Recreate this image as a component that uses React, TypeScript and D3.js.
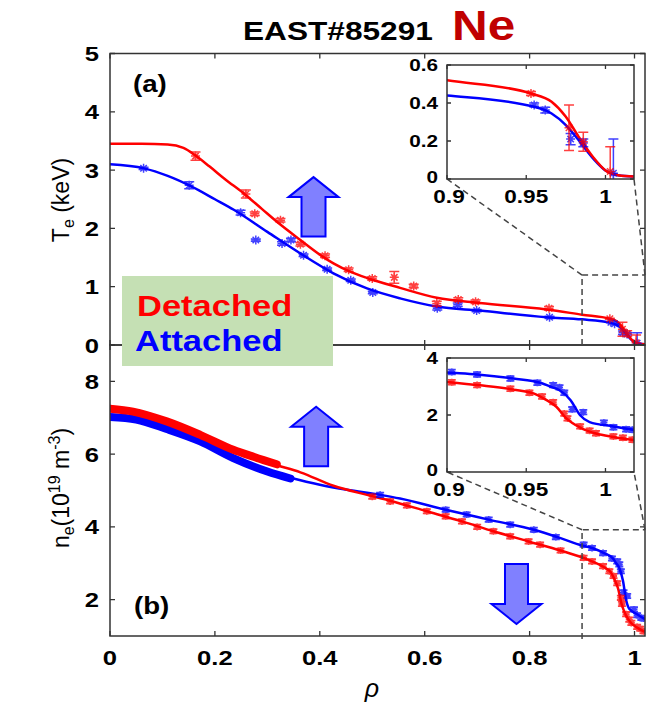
import React from "react";
import * as d3 from "d3";

const W = 657, H = 704;
const FONT = "'Liberation Sans', Arial, Helvetica, sans-serif";
const RED = "#ff0000", BLUE = "#0000ff";

// ---- tick values ----
const xTicks = [0, 0.2, 0.4, 0.6, 0.8, 1];
const teTicks = [0, 1, 2, 3, 4, 5];
const neTicks = [2, 4, 6, 8];
const insetXTicks = [0.9, 0.95, 1];
const insetTeTicks = [0, 0.2, 0.4, 0.6];
const insetNeTicks = [0, 2, 4];

// ---- (a) Te fits [rho, keV] ----
const teDetFit = [[0,3.45],[0.06,3.45],[0.11,3.44],[0.14,3.38],[0.163,3.25],[0.19,3.06],[0.22,2.84],[0.255,2.6],[0.29,2.33],[0.32,2.1],[0.363,1.8],[0.4,1.55],[0.426,1.4],[0.46,1.25],[0.49,1.15],[0.553,0.98],[0.623,0.81],[0.705,0.72],[0.832,0.61],[0.9,0.52],[0.953,0.45],[0.966,0.407],[0.975,0.328],[0.983,0.223],[0.992,0.117],[1.0,0.045],[1.008,0.02],[1.02,0.012]];
const teAttFit = [[0,3.1],[0.065,3.03],[0.11,2.9],[0.155,2.72],[0.2,2.5],[0.236,2.32],[0.3,1.94],[0.363,1.57],[0.426,1.23],[0.49,0.97],[0.553,0.8],[0.623,0.66],[0.705,0.59],[0.832,0.475],[0.9,0.44],[0.955,0.38],[0.966,0.345],[0.975,0.284],[0.983,0.205],[0.992,0.11],[1.0,0.045],[1.008,0.02],[1.02,0.012]];
// ---- (a) Te measurements [rho, keV, err] ----
const teDetPts = [[0.163,3.24,0.07],[0.259,2.59,0.07],[0.276,2.25,0.03],[0.325,2.14,0.03],[0.363,1.73,0.03],[0.41,1.53,0.03],[0.455,1.29,0.03],[0.5,1.14,0.03],[0.542,1.16,0.1],[0.579,1.01,0.03],[0.623,0.71,0.04],[0.664,0.78,0.03],[0.697,0.74,0.03],[0.837,0.63,0.03],[0.953,0.45,0.01],[0.977,0.27,0.12],[0.986,0.196,0.05],[1.003,0.04,0.13]];
const teAttPts = [[0.064,3.03,0.02],[0.151,2.74,0.06],[0.249,2.27,0.04],[0.278,1.8,0.02],[0.328,1.74,0.03],[0.345,1.8,0.03],[0.369,1.54,0.02],[0.414,1.3,0.02],[0.459,1.11,0.02],[0.501,0.9,0.02],[0.624,0.63,0.03],[0.663,0.69,0.03],[0.699,0.59,0.02],[0.838,0.475,0.02],[0.955,0.39,0.01],[0.962,0.363,0.015],[0.978,0.21,0.03],[0.986,0.19,0.02],[1.005,0.03,0.18]];

// ---- (b) ne [rho, 1e19 m^-3] ----
const neDetCore = [[0,7.25],[0.044,7.17],[0.108,6.9],[0.172,6.53],[0.235,6.12],[0.275,5.92],[0.318,5.72]];
const neAttCore = [[0,7.02],[0.05,6.95],[0.108,6.69],[0.172,6.35],[0.235,5.89],[0.3,5.52],[0.344,5.33]];
const neDetFit = [[0,7.25],[0.044,7.17],[0.108,6.9],[0.172,6.53],[0.235,6.12],[0.312,5.72],[0.363,5.5],[0.426,5.13],[0.49,4.88],[0.534,4.72],[0.604,4.43],[0.671,4.15],[0.731,3.88],[0.798,3.6],[0.859,3.35],[0.9,3.16],[0.921,3.04],[0.942,2.89],[0.955,2.75],[0.962,2.55],[0.969,2.29],[0.975,1.9],[0.984,1.56],[0.994,1.35],[1.005,1.23],[1.02,1.11]];
const neAttFit = [[0,7.02],[0.05,6.95],[0.108,6.69],[0.172,6.35],[0.235,5.89],[0.3,5.52],[0.344,5.35],[0.4,5.16],[0.452,5.02],[0.515,4.88],[0.553,4.78],[0.64,4.47],[0.722,4.2],[0.808,3.92],[0.859,3.69],[0.9,3.49],[0.919,3.42],[0.942,3.28],[0.959,3.13],[0.965,3.0],[0.971,2.87],[0.978,2.52],[0.984,1.99],[0.99,1.75],[1.005,1.6],[1.02,1.46]];
const neDetPts = [[0.5,4.83],[0.534,4.7],[0.566,4.59],[0.604,4.43],[0.64,4.29],[0.671,4.15],[0.7,4.0],[0.731,3.88],[0.763,3.74],[0.798,3.6],[0.82,3.51],[0.859,3.35],[0.903,3.15],[0.919,3.05],[0.94,2.92],[0.952,2.78],[0.96,2.65],[0.967,2.45],[0.974,2.05],[0.976,1.88],[0.984,1.6],[0.99,1.45],[0.994,1.36],[1.005,1.25],[1.011,1.2],[1.017,1.13]];
const neAttPts = [[0.515,4.88],[0.64,4.47],[0.68,4.34],[0.722,4.2],[0.763,4.06],[0.808,3.92],[0.85,3.72],[0.903,3.51],[0.919,3.42],[0.94,3.28],[0.957,3.13],[0.967,3.05],[0.971,2.97],[0.974,2.78],[0.979,2.2],[0.986,2.1],[0.999,1.73],[1.005,1.57],[1.013,1.5],[1.017,1.48]];

// ---- annotation arrows: [rho, tail value, tip value] ----
const arrowA = [0.388, 1.86, 2.88];
const arrowBUp = [0.393, 5.67, 7.3];
const arrowBDown = [0.775, 2.98, 1.33];
// zoom boxes [rho0, rho1, v0, v1]
const zoomA = [0.9, 1.02, 0, 1.2];
const zoomB = [0.9, 1.02, 1, 3.92];

// ---- scales ----
const x = d3.scaleLinear().domain([0, 1.02]).range([110, 645]);
const yA = d3.scaleLinear().domain([0, 5]).range([345, 53.5]);
const yB = d3.scaleLinear().domain([1, 9]).range([636, 345]);
const ix = d3.scaleLinear().domain([0.9, 1.018]).range([447, 634]);
const iyA = d3.scaleLinear().domain([0, 0.6]).range([179, 65]);
const iyB = d3.scaleLinear().domain([0, 4]).range([472, 358]);

const SX = 1.22;

function T({ x, y, size, anchor = "start", weight = "bold", fill = "#000", sx = SX, italic = false, children }: any) {
  return (
    <g transform={`translate(${x},${y}) scale(${sx},1)`}>
      <text textAnchor={anchor} fontSize={size} fontWeight={weight} fill={fill}
        fontFamily={FONT} fontStyle={italic ? "italic" : "normal"}>{children}</text>
    </g>
  );
}

function star(cx: number, cy: number, r: number) {
  const d = r * 0.72;
  return `M${cx - r},${cy}H${cx + r}M${cx},${cy - r}V${cy + r}M${cx - d},${cy - d}L${cx + d},${cy + d}M${cx - d},${cy + d}L${cx + d},${cy - d}`;
}

function Points({ pts, sx, sy, color, r, cap, errDefault = 0, sw = 1.5 }: any) {
  return (
    <g stroke={color} strokeWidth={sw} opacity={0.75} fill="none">
      {pts.map((p: number[], i: number) => {
        const cx = sx(p[0]), cy = sy(p[1]);
        const e = p.length > 2 ? p[2] : errDefault;
        const y1 = sy(p[1] + e), y2 = sy(p[1] - e);
        return (
          <g key={i}>
            <path d={star(cx, cy, r)} />
            {e > 0 && <path d={`M${cx},${y1}V${y2}M${cx - cap},${y1}H${cx + cap}M${cx - cap},${y2}H${cx + cap}`} />}
          </g>
        );
      })}
    </g>
  );
}

function Arrow({ a, sy, hw = 12, hh = 25, hl = 20 }: any) {
  const cx = x(a[0]);
  const yt = sy(a[1]);
  const yp = sy(a[2]);
  const dir = yp < yt ? 1 : -1; // up => 1
  const yb = yp + dir * hl;
  const pts = [[cx - hw, yt], [cx - hw, yb], [cx - hh, yb], [cx, yp], [cx + hh, yb], [cx + hw, yb], [cx + hw, yt]];
  return <polygon points={pts.map(p => p.join(",")).join(" ")} fill="#8080ff" stroke={BLUE} strokeWidth={2} />;
}

function Frame({ x0, x1, y0, y1, xt, yt, sx, sy, len = 5 }: any) {
  const parts: string[] = [];
  xt.forEach((v: number) => {
    const px = sx(v);
    parts.push(`M${px},${y1}v${-len}`, `M${px},${y0}v${len}`);
  });
  yt.forEach((v: number) => {
    const py = sy(v);
    parts.push(`M${x0},${py}h${len}`, `M${x1},${py}h${-len}`);
  });
  return (
    <g>
      <rect x={x0} y={y0} width={x1 - x0} height={y1 - y0} fill="none" stroke="#333" strokeWidth={1.5} />
      <path d={parts.join("")} stroke="#333" strokeWidth={1.3} fill="none" />
    </g>
  );
}

export default function App() {
  const lineA = (sx: any, sy: any) => d3.line<number[]>().x(d => sx(d[0])).y(d => sy(d[1])).curve(d3.curveMonotoneX);
  const la = lineA(x, yA), lb = lineA(x, yB), lia = lineA(ix, iyA), lib = lineA(ix, iyB);
  const dash = { stroke: "#444", strokeWidth: 1.5, strokeDasharray: "6,4", fill: "none" };

  return (
    <svg width={W} height={H} style={{ position: "absolute", left: 0, top: 0, background: "#fff" }}>
      <defs>
        <clipPath id="cA"><rect x={x(0)} y={yA(5)} width={x(1.02) - x(0)} height={yA(0) - yA(5)} /></clipPath>
        <clipPath id="cB"><rect x={x(0)} y={yB(9)} width={x(1.02) - x(0)} height={yB(1) - yB(9)} /></clipPath>
        <clipPath id="ciA"><rect x={ix(0.9)} y={iyA(0.6)} width={ix(1.018) - ix(0.9)} height={iyA(0) - iyA(0.6)} /></clipPath>
        <clipPath id="ciB"><rect x={ix(0.9)} y={iyB(4)} width={ix(1.018) - ix(0.9)} height={iyB(0) - iyB(4)} /></clipPath>
      </defs>

      {/* Title */}
      <T x={243} y={40} size={25.5} sx={1.24}>EAST#85291</T>
      <T x={452} y={40} size={43} fill="#c00000" sx={1.15}>Ne</T>

      {/* Panel (a) */}
      <g clipPath="url(#cA)">
        <path d={la(teAttFit) || ""} stroke={BLUE} strokeWidth={2.5} fill="none" />
        <path d={la(teDetFit) || ""} stroke={RED} strokeWidth={2.5} fill="none" />
        <Points pts={teAttPts} sx={x} sy={yA} color={BLUE} r={4.5} cap={5} />
        <Points pts={teDetPts} sx={x} sy={yA} color={RED} r={4.5} cap={5} />
      </g>
      {/* Panel (b) */}
      <g clipPath="url(#cB)">
        <path d={lb(neAttFit) || ""} stroke={BLUE} strokeWidth={2.5} fill="none" />
        <path d={lb(neDetFit) || ""} stroke={RED} strokeWidth={2.5} fill="none" />
        <path d={lb(neAttCore) || ""} stroke={BLUE} strokeWidth={8} strokeLinecap="round" fill="none" />
        <path d={lb(neDetCore) || ""} stroke={RED} strokeWidth={8} strokeLinecap="round" fill="none" />
        <Points pts={neAttPts} sx={x} sy={yB} color={BLUE} r={3.5} cap={4} errDefault={0.06} sw={1.8} />
        <Points pts={neDetPts} sx={x} sy={yB} color={RED} r={3.5} cap={4} errDefault={0.06} sw={1.8} />
      </g>

      <Frame x0={x(0)} x1={x(1.02)} y0={yA(5)} y1={yA(0)} xt={xTicks} yt={teTicks} sx={x} sy={yA} />
      <Frame x0={x(0)} x1={x(1.02)} y0={yB(9)} y1={yB(1)} xt={xTicks} yt={neTicks} sx={x} sy={yB} />

      {/* zoom boxes & connectors */}
      <path {...dash} d={`M${x(zoomA[0])},${yA(zoomA[2])}V${yA(zoomA[3])}H${x(zoomA[1])}`} />
      <path {...dash} d={`M${x(zoomA[0])},${yA(zoomA[3])}L${ix(0.9)},${iyA(0)}M${x(zoomA[1])},${yA(zoomA[3])}L${ix(1.018)},${iyA(0)}`} />
      <path {...dash} d={`M${x(zoomB[0])},${yB(zoomB[2]) + 3}V${yB(zoomB[3])}H${x(zoomB[1])}`} />
      <path {...dash} d={`M${x(zoomB[0])},${yB(zoomB[3])}L${ix(0.9)},${iyB(0)}M${x(zoomB[1])},${yB(zoomB[3])}L${ix(1.018)},${iyB(0)}`} />

      {/* Inset (a) */}
      <rect x={ix(0.9)} y={iyA(0.6)} width={ix(1.018) - ix(0.9)} height={iyA(0) - iyA(0.6)} fill="#fff" />
      <g clipPath="url(#ciA)">
        <path d={lia(teAttFit) || ""} stroke={BLUE} strokeWidth={2.5} fill="none" />
        <path d={lia(teDetFit) || ""} stroke={RED} strokeWidth={2.5} fill="none" />
        <Points pts={teAttPts} sx={ix} sy={iyA} color={BLUE} r={4.5} cap={5} />
        <Points pts={teDetPts} sx={ix} sy={iyA} color={RED} r={4.5} cap={5} />
      </g>
      <Frame x0={ix(0.9)} x1={ix(1.018)} y0={iyA(0.6)} y1={iyA(0)} xt={insetXTicks} yt={insetTeTicks} sx={ix} sy={iyA} len={4} />

      {/* Inset (b) */}
      <rect x={ix(0.9)} y={iyB(4)} width={ix(1.018) - ix(0.9)} height={iyB(0) - iyB(4)} fill="#fff" />
      <g clipPath="url(#ciB)">
        <path d={lib(neAttFit) || ""} stroke={BLUE} strokeWidth={2.5} fill="none" />
        <path d={lib(neDetFit) || ""} stroke={RED} strokeWidth={2.5} fill="none" />
        <Points pts={neAttPts} sx={ix} sy={iyB} color={BLUE} r={3.5} cap={4} errDefault={0.08} sw={1.8} />
        <Points pts={neDetPts} sx={ix} sy={iyB} color={RED} r={3.5} cap={4} errDefault={0.08} sw={1.8} />
      </g>
      <Frame x0={ix(0.9)} x1={ix(1.018)} y0={iyB(4)} y1={iyB(0)} xt={insetXTicks} yt={insetNeTicks} sx={ix} sy={iyB} len={4} />

      {/* Arrows */}
      <Arrow a={arrowA} sy={yA} />
      <Arrow a={arrowBUp} sy={yB} />
      <Arrow a={arrowBDown} sy={yB} hw={11.5} />

      {/* Legend */}
      <rect x={122} y={276} width={211} height={90} fill="#c5e0b4" />
      <T x={137} y={316} size={30} fill={RED} sx={1.15}>Detached</T>
      <T x={135} y={351} size={30} fill={BLUE} sx={1.15}>Attached</T>

      {/* panel labels */}
      <T x={133} y={92} size={24} sx={1.15}>(a)</T>
      <T x={134} y={614} size={24} sx={1.15}>(b)</T>

      {/* main tick labels */}
      {teTicks.map(v => <T key={"ta" + v} x={99} y={yA(v) + 7.5} size={21} anchor="end">{String(v)}</T>)}
      {neTicks.map(v => <T key={"tb" + v} x={99} y={yB(v) + 7.5} size={21} anchor="end">{String(v)}</T>)}
      {xTicks.map(v => <T key={"tx" + v} x={x(v)} y={665} size={21} anchor="middle">{String(v)}</T>)}

      {/* inset tick labels */}
      {insetTeTicks.map(v => <T key={"ia" + v} x={438} y={iyA(v) + (v === 0 ? 4 : 6)} size={17} anchor="end">{String(v)}</T>)}
      {insetXTicks.map(v => <T key={"iax" + v} x={ix(v) + (v === 0.9 ? 2 : 0)} y={203} size={18.5} anchor="middle">{String(v)}</T>)}
      {insetNeTicks.map(v => <T key={"ib" + v} x={438} y={iyB(v) + (v === 0 ? 4 : 6)} size={17} anchor="end">{String(v)}</T>)}
      {insetXTicks.map(v => <T key={"ibx" + v} x={ix(v) + (v === 0.9 ? 2 : 0)} y={496} size={18.5} anchor="middle">{String(v)}</T>)}

      {/* axis titles */}
      <text transform="translate(69,200) rotate(-90)" textAnchor="middle" fontSize={23} fontFamily={FONT} fill="#000">
        T<tspan fontSize={16} dy={5}>e</tspan><tspan dy={-5}> (keV)</tspan>
      </text>
      <text transform="translate(69,488) rotate(-90)" textAnchor="middle" fontSize={23} fontFamily={FONT} fill="#000">
        n<tspan fontSize={16} dy={5}>e</tspan><tspan dy={-5}>(10</tspan><tspan fontSize={16} dy={-9}>19</tspan><tspan dy={9}> m</tspan><tspan fontSize={16} dy={-9}>-3</tspan><tspan dy={9}>)</tspan>
      </text>
      <T x={372} y={697} size={25} anchor="middle" weight="normal" italic sx={1}>ρ</T>
    </svg>
  );
}
